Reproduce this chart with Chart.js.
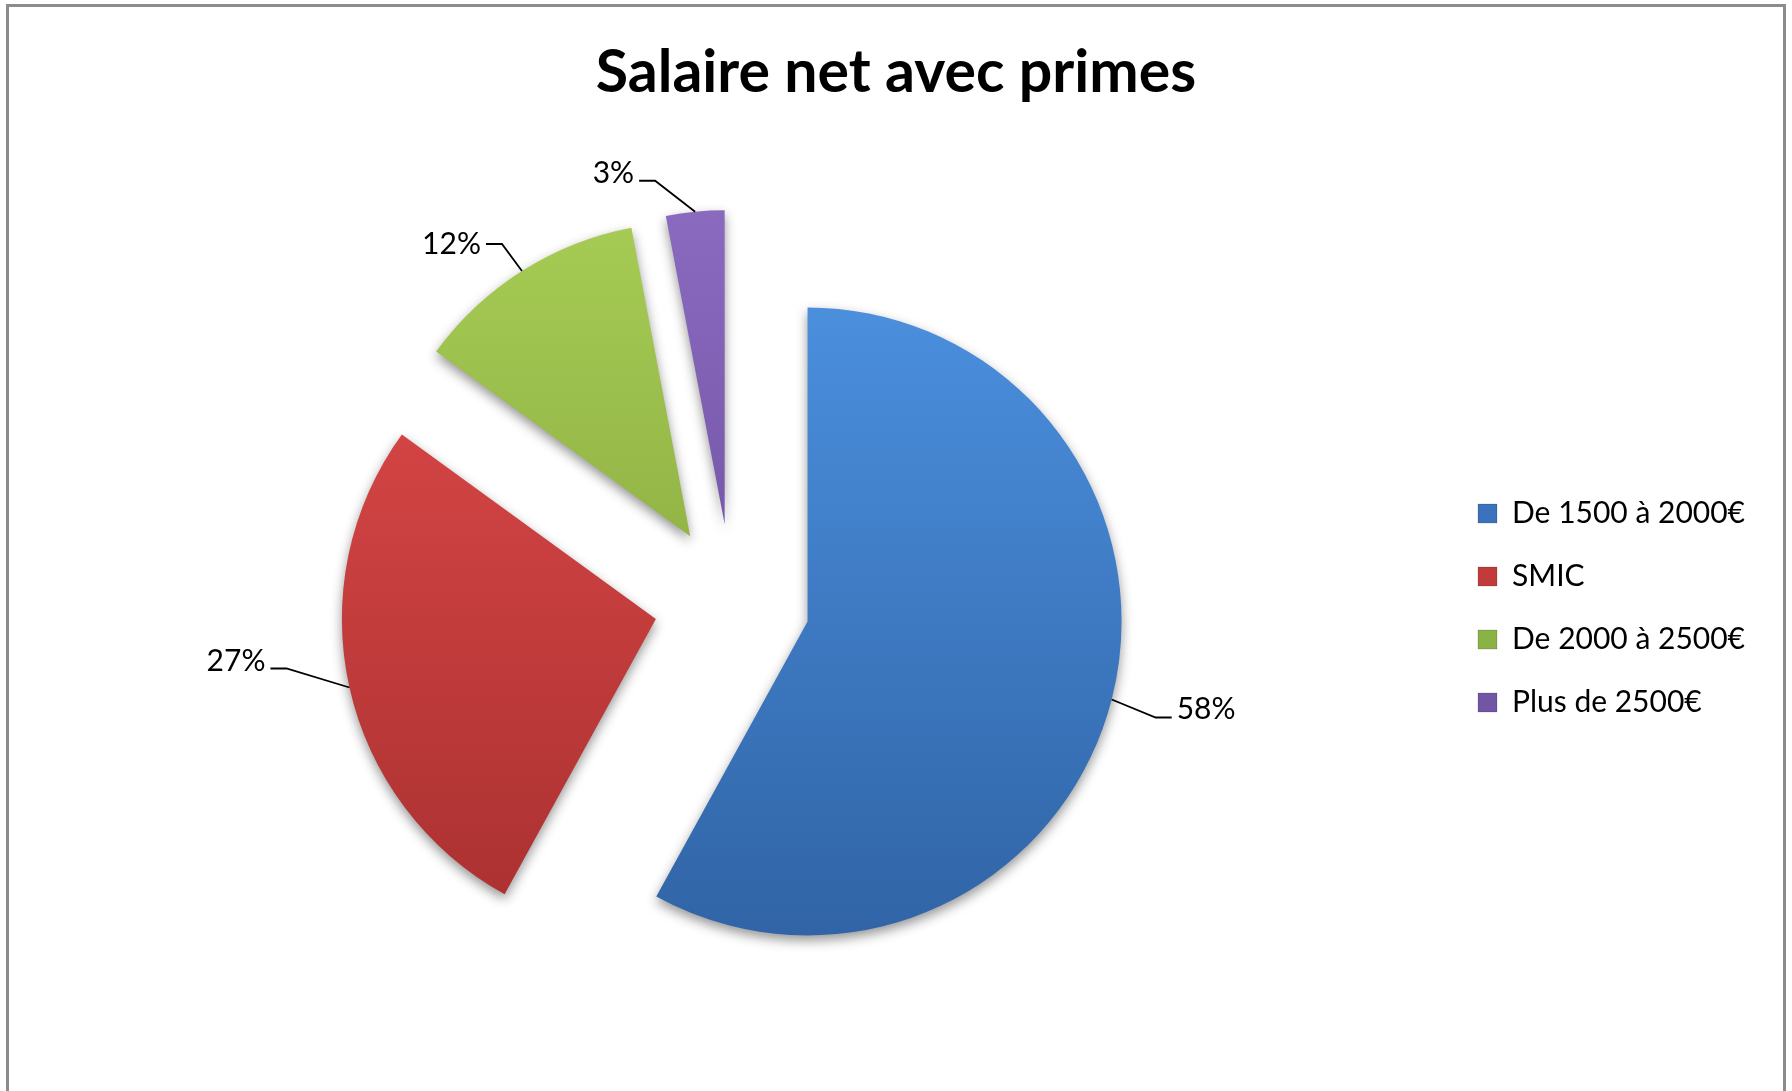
<!DOCTYPE html>
<html><head><meta charset="utf-8">
<script src="https://cdn.jsdelivr.net/npm/chart.js@4/dist/chart.umd.min.js"></script>
<style>
html,body{margin:0;padding:0;background:#fff;overflow:hidden}
#wrap{position:relative;width:1792px;height:1091px;overflow:hidden}
#frame{position:absolute;left:6px;top:4px;width:1780px;height:1200px;border:3px solid #8c8c8c;box-sizing:border-box}
canvas{position:absolute;left:0;top:0}
</style></head><body>
<div id="wrap"><div id="frame"></div><canvas id="c" width="1792" height="1091"></canvas></div>
<script>
// ---- data ----
const chartTitle = 'Salaire net avec primes';
const categories = ['De 1500 à 2000€', 'SMIC', 'De 2000 à 2500€', 'Plus de 2500€'];
const values = [58, 27, 12, 3];

// ---- styles ----
const topColors = ['#4e94e4', '#e44c4c', '#abd157', '#8f6ec4'];
const bottomColors = ['#2d5f9f', '#a32d2d', '#7a9936', '#5f4592'];
const legendColors = ['#3a72bd', '#c23b3b', '#8bb244', '#7355a6'];
const EXPLODE = 78;
// leader-line elbow offsets (relative to the slice's outer mid point) and text nudges
const labelElbow = [[44, 18], [-63, -19], [-20, -27], [-40, -31]];
const labelTextDy = [0, 0, 8, 0];

function sliceGradient(c) {
  const chart = c.chart, a = chart.chartArea, i = c.dataIndex;
  if (!a) return legendColors[i];
  const cy = (a.top + a.bottom) / 2, r = Math.min(a.width, a.height) / 2;
  const g = chart.ctx.createLinearGradient(0, cy - r - EXPLODE, 0, cy + r + EXPLODE);
  g.addColorStop(0, topColors[i]);
  g.addColorStop(1, bottomColors[i]);
  return g;
}

const layoutTweak = {
  id: 'layoutTweak',
  afterLayout(chart) {
    const t = chart.titleBlock;
    if (t) { t.left = 0; t.right = chart.width; t.width = chart.width; }
    const l = chart.legend;
    if (l) { l.top += 6; l.bottom += 6; }
  }
};

const explodePlugin = {
  id: 'explode',
  beforeDatasetDraw(chart, args) {
    const ctx = chart.ctx;
    args.meta.data.forEach((arc) => {
      const p = arc.getProps(['startAngle', 'endAngle'], true);
      const mid = (p.startAngle + p.endAngle) / 2;
      ctx.save();
      ctx.translate(Math.cos(mid) * EXPLODE, Math.sin(mid) * EXPLODE);
      ctx.shadowColor = 'rgba(0,0,0,0.42)';
      ctx.shadowBlur = 12;
      ctx.shadowOffsetX = 0;
      ctx.shadowOffsetY = 5;
      arc.draw(ctx);
      ctx.restore();
    });
    return false;
  }
};

const labelPlugin = {
  id: 'pctLabels',
  afterDatasetsDraw(chart) {
    const ctx = chart.ctx;
    const meta = chart.getDatasetMeta(0);
    const data = chart.data.datasets[0].data;
    const total = data.reduce((s, v) => s + v, 0);
    meta.data.forEach((arc, i) => {
      const p = arc.getProps(['x', 'y', 'startAngle', 'endAngle', 'outerRadius'], true);
      const mid = (p.startAngle + p.endAngle) / 2;
      const rr = p.outerRadius + EXPLODE;
      const ax = p.x + Math.cos(mid) * rr, ay = p.y + Math.sin(mid) * rr;
      const ex = ax + labelElbow[i][0], ey = ay + labelElbow[i][1];
      const dir = labelElbow[i][0] >= 0 ? 1 : -1;
      const hx = ex + dir * 16;
      ctx.save();
      ctx.strokeStyle = '#000';
      ctx.lineWidth = 1.8;
      ctx.beginPath();
      ctx.moveTo(ax, ay);
      ctx.lineTo(ex, ey);
      ctx.lineTo(hx, ey);
      ctx.stroke();
      ctx.fillStyle = '#000';
      ctx.font = '30px Lato';
      ctx.textAlign = dir > 0 ? 'left' : 'right';
      ctx.textBaseline = 'alphabetic';
      ctx.fillText(Math.round(data[i] / total * 100) + '%', hx + dir * 5, ey + 2 + labelTextDy[i]);
      ctx.restore();
    });
  }
};

function build() {
  new Chart(document.getElementById('c'), {
    type: 'pie',
    data: {
      labels: categories,
      datasets: [{
        data: values,
        backgroundColor: sliceGradient,
        borderWidth: 0,
        offset: 0
      }]
    },
    options: {
      responsive: false,
      maintainAspectRatio: false,
      animation: false,
      layout: { padding: { left: 19, right: 37, top: 0, bottom: 175 } },
      plugins: {
        tooltip: { enabled: false },
        title: {
          display: true,
          text: chartTitle,
          color: '#000',
          font: { family: 'Lato', size: 59, weight: 'bold', lineHeight: 1.2 },
          padding: { top: 38, bottom: 179.2 }
        },
        legend: {
          display: true,
          position: 'right',
          align: 'center',
          fullSize: false,
          labels: {
            boxWidth: 19,
            boxHeight: 19,
            padding: 33,
            color: '#000',
            font: { family: 'Lato', size: 30 },
            generateLabels: (chart) => chart.data.labels.map((t, i) => ({
              text: t,
              fillStyle: legendColors[i],
              strokeStyle: 'rgba(0,0,0,0.15)',
              lineWidth: 1,
              hidden: false,
              index: i,
              fontColor: '#000'
            }))
          }
        }
      }
    },
    plugins: [layoutTweak, explodePlugin, labelPlugin]
  });
}

Promise.all([
  document.fonts.load('bold 59px Lato'),
  document.fonts.load('30px Lato')
]).then(build, build);
</script>
</body></html>
